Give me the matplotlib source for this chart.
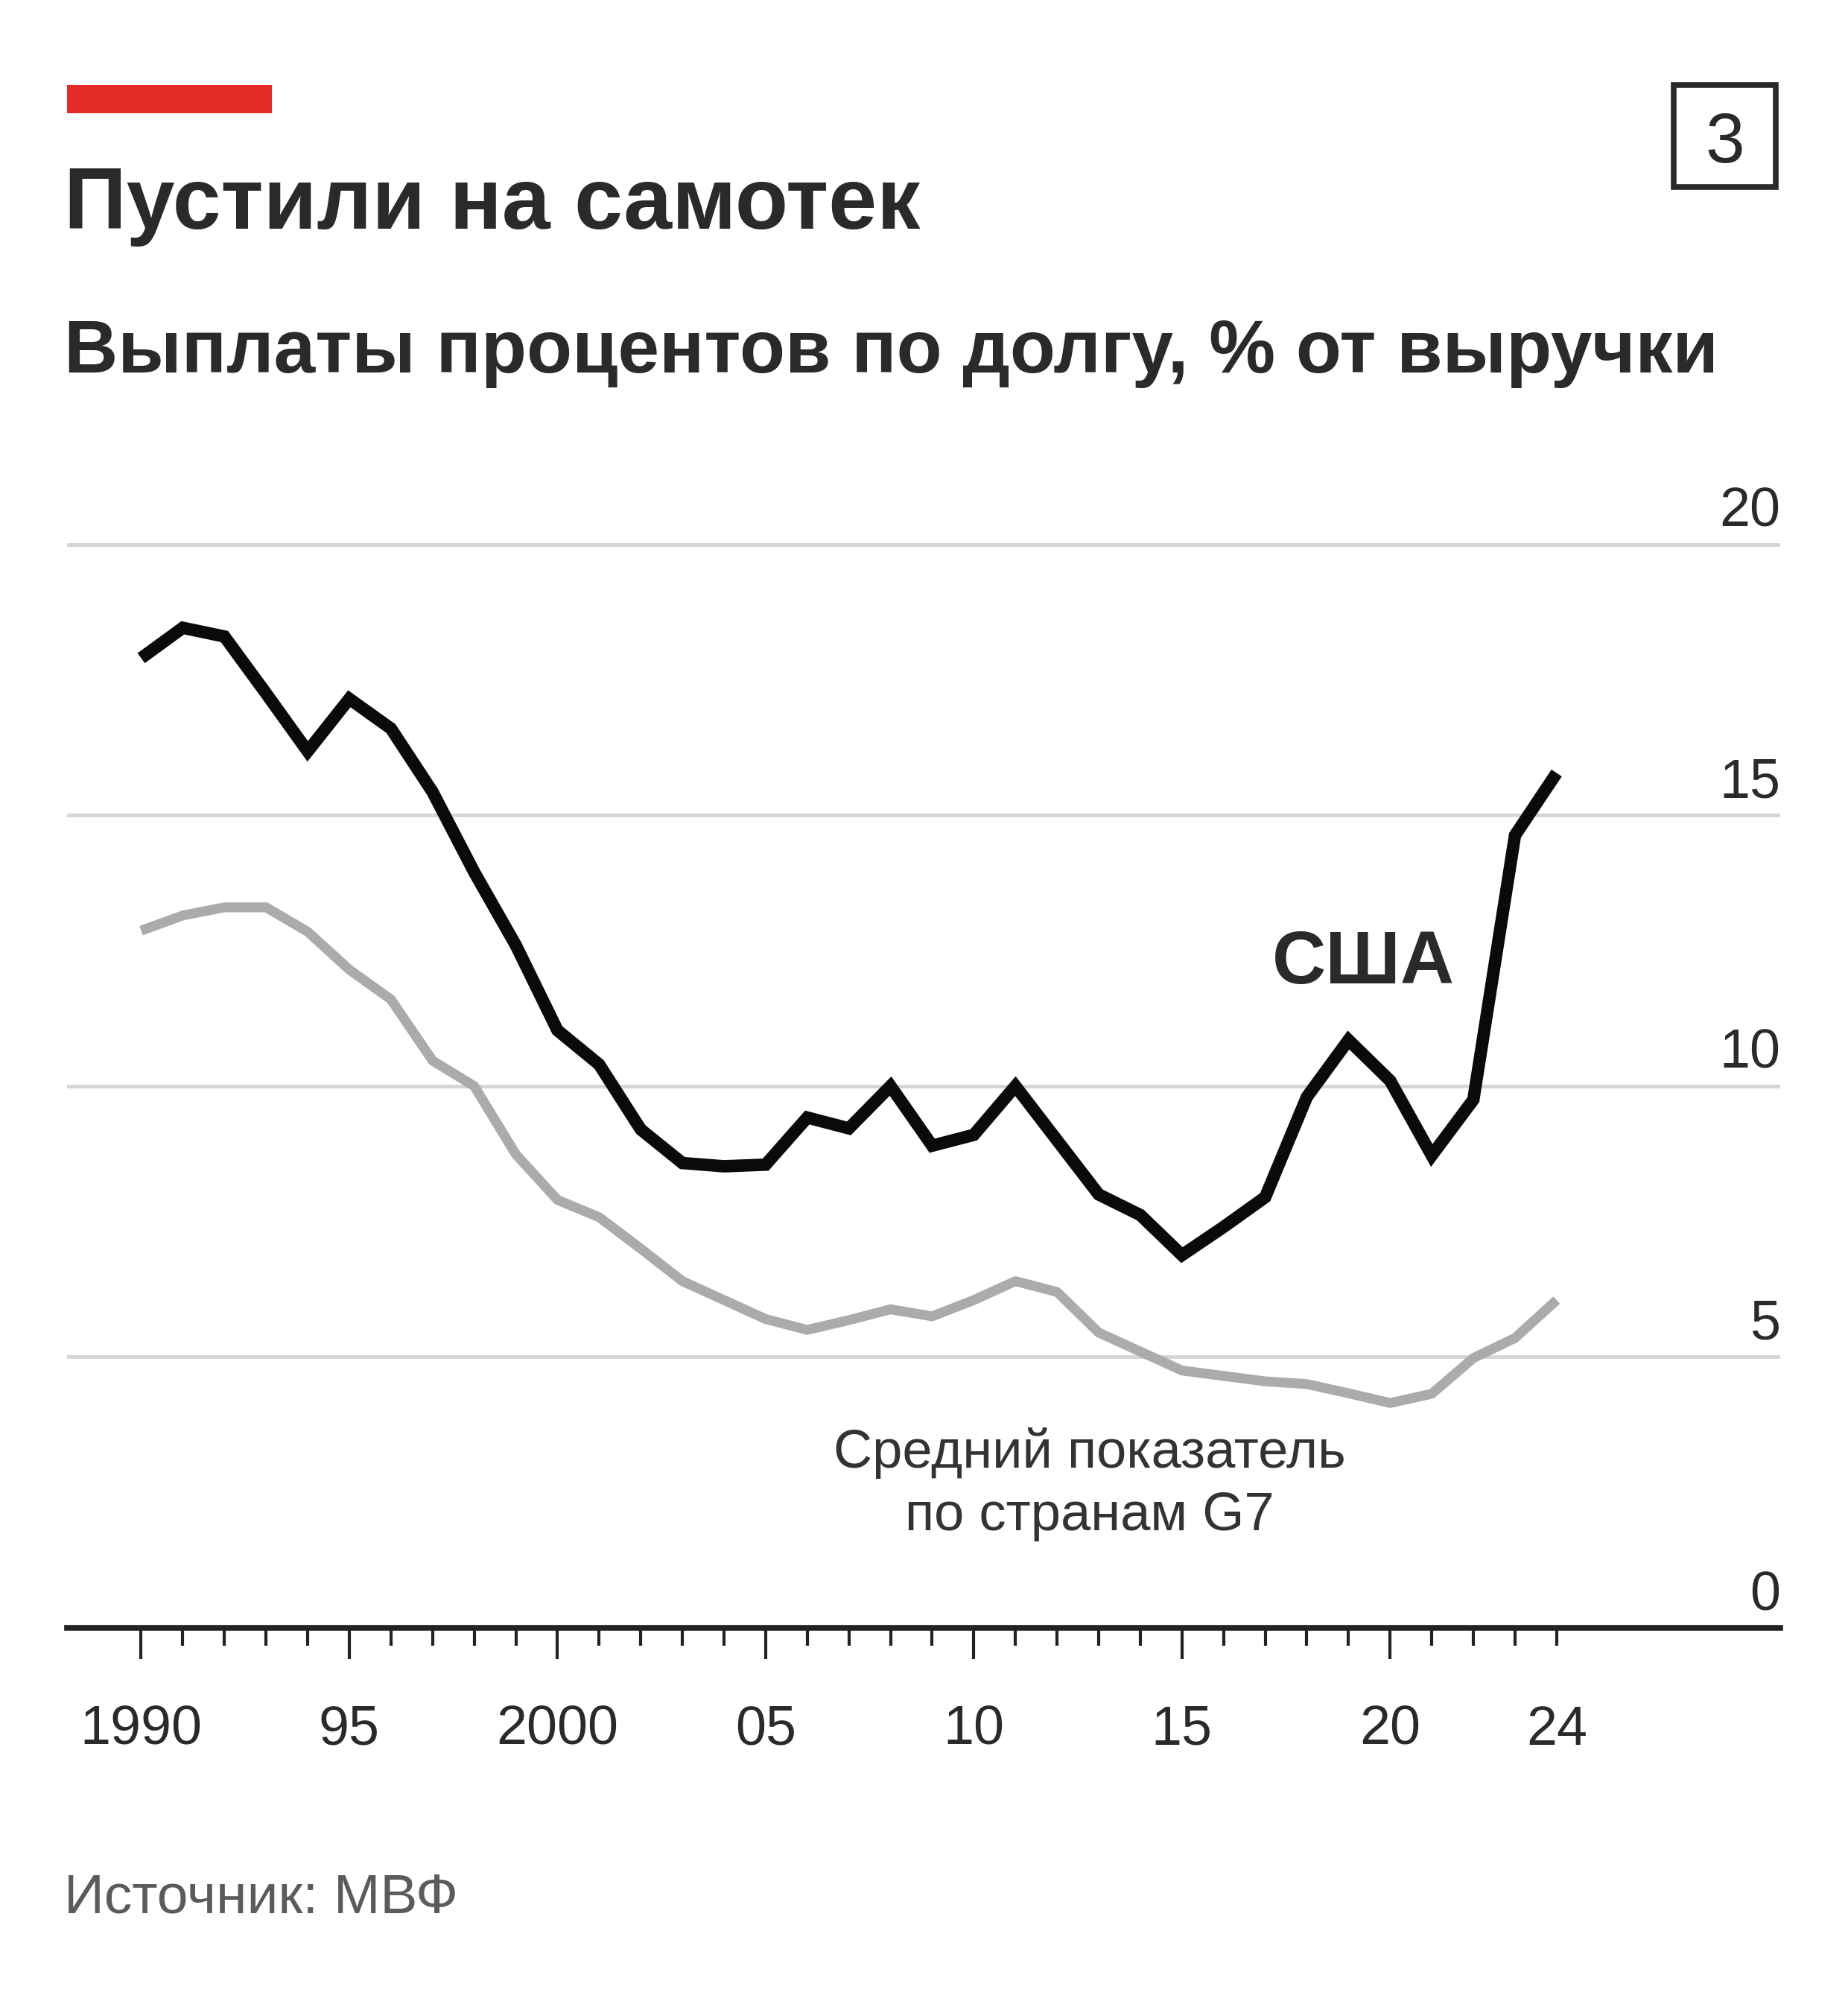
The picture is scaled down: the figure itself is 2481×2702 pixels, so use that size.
import matplotlib
matplotlib.use("Agg")
import matplotlib.pyplot as plt
from matplotlib.patches import Rectangle
import matplotlib.transforms as mtransforms

plt.rcParams['font.family'] = ['Liberation Sans', 'DejaVu Sans']

# ---------------- data ----------------
years = [1990, 1991, 1992, 1993, 1994, 1995, 1996, 1997, 1998, 1999,
         2000, 2001, 2002, 2003, 2004, 2005, 2006, 2007, 2008, 2009,
         2010, 2011, 2012, 2013, 2014, 2015, 2016, 2017, 2018, 2019,
         2020, 2021, 2022, 2023, 2024]
usa = [17.9, 18.46, 18.3, 17.25, 16.18, 17.15, 16.6, 15.43, 13.95, 12.6,
       11.03, 10.4, 9.2, 8.58, 8.52, 8.55, 9.42, 9.22, 10.0, 8.9,
       9.1, 10.0, 9.0, 8.0, 7.62, 6.88, 7.4, 7.95, 9.8, 10.85,
       10.1, 8.72, 9.75, 14.63, 15.78]
g7 = [12.87, 13.15, 13.3, 13.3, 12.85, 12.15, 11.6, 10.47, 10.0, 8.74,
      7.9, 7.58, 7.0, 6.4, 6.05, 5.7, 5.5, 5.68, 5.88, 5.75,
      6.05, 6.4, 6.2, 5.45, 5.1, 4.75, 4.65, 4.55, 4.5, 4.33,
      4.15, 4.32, 4.98, 5.35, 6.05]

ytick_values = [0, 5, 10, 15, 20]
ytick_labels = ['0', '5', '10', '15', '20']
xmajor_values = [1990, 1995, 2000, 2005, 2010, 2015, 2020]
xmajor_labels = ['1990', '95', '2000', '05', '10', '15', '20']
xlast_value = 2024
xlast_label = '24'

title = 'Пустили на самотек'
subtitle = 'Выплаты процентов по долгу, % от выручки'
source = 'Источник: МВФ'
usa_label = 'США'
g7_label_1 = 'Средний показатель'
g7_label_2 = 'по странам G7'
badge = '3'

# ---------------- style ----------------
TXT = '#2b2a28'
GRID = '#d6d6d6'
GRAY_LINE = '#ababab'
RED = '#e52b28'

W, H = 2481, 2702
fig = plt.figure(figsize=(W / 100, H / 100), dpi=100)
fig.patch.set_facecolor('white')

ax = fig.add_axes([90 / W, 1 - 2185 / H, 2300 / W, (2185 - 658) / H])
ax.set_xlim(1988.22, 2029.37)
ax.set_ylim(0, 21)
ax.set_facecolor('white')
for s in ['top', 'right', 'left']:
    ax.spines[s].set_visible(False)
ax.spines['bottom'].set_linewidth(5.5)
ax.spines['bottom'].set_color('#222222')
ax.spines['bottom'].set_zorder(5)

# gridlines
for v in ytick_values[1:]:
    ax.axhline(v, color=GRID, lw=3.5, zorder=1)

# y labels (inside, right-aligned, above gridlines)
trans = mtransforms.blended_transform_factory(ax.transAxes, ax.transData)
for v, lab in zip(ytick_values, ytick_labels):
    ax.text(1.0, v + 0.33, lab, transform=trans, ha='right', va='baseline',
            fontsize=53, color=TXT)
ax.set_yticks([])

# x ticks
minor_years = [y for y in years if y not in xmajor_values]
ax.set_xticks(xmajor_values, labels=xmajor_labels)
ax.set_xticks(minor_years,
              labels=[xlast_label if y == xlast_value else '' for y in minor_years],
              minor=True)
ax.tick_params(axis='x', which='major', length=30, width=3, color='#222222',
               pad=44, labelsize=53, labelcolor=TXT)
ax.tick_params(axis='x', which='minor', length=17, width=3, color='#222222',
               pad=44 + 13, labelsize=53, labelcolor=TXT)

# lines
ax.plot(years, g7, color=GRAY_LINE, lw=9.5, solid_joinstyle='round',
        solid_capstyle='butt', zorder=3)
ax.plot(years, usa, color='#0a0a0a', lw=12, solid_joinstyle='miter',
        solid_capstyle='butt', zorder=4)

# annotations
ax.text(2017.16, 11.9, usa_label, fontsize=72, fontweight='bold', color=TXT,
        ha='left', va='baseline')
ax.text(2012.78, 2.96, g7_label_1, fontsize=52, color='#333333',
        ha='center', va='baseline')
ax.text(2012.78, 1.80, g7_label_2, fontsize=52, color='#333333',
        ha='center', va='baseline')

# header
fig.patches.append(Rectangle((90 / W, 1 - 152 / H), 275 / W, 38 / H,
                             transform=fig.transFigure, color=RED, lw=0))
fig.text(86 / W, 1 - 307 / H, title, fontsize=84, fontweight='bold', color=TXT,
         ha='left', va='baseline')
fig.text(86 / W, 1 - 500 / H, subtitle, fontsize=72, fontweight='bold', color=TXT,
         ha='left', va='baseline')

# badge
fig.patches.append(Rectangle((2247 / W, 1 - 251 / H), 137 / W, 137 / H,
                             transform=fig.transFigure, fill=False,
                             edgecolor=TXT, lw=5.5))
fig.text(2315.5 / W, 1 - 218 / H, badge, fontsize=68, color=TXT,
         ha='center', va='baseline')

# source
fig.text(86 / W, 1 - 2567 / H, source, fontsize=54, color='#5b5b5b',
         ha='left', va='baseline')

fig.savefig('out.png', dpi=100, facecolor='white')
